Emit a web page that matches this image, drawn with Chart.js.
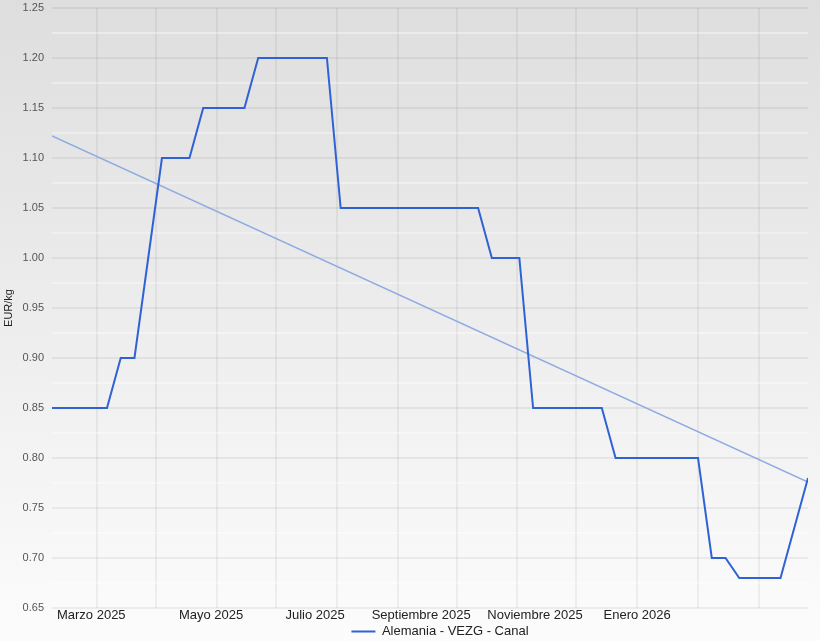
<!DOCTYPE html>
<html>
<head>
<meta charset="utf-8">
<script src="https://cdn.jsdelivr.net/npm/chart.js@4.4.1/dist/chart.umd.min.js"></script>
<style>
  body { margin: 0; background: #fff; }
  #wrap { width: 820px; height: 641px; }
</style>
</head>
<body>
<div id="wrap"><canvas id="chart"></canvas></div>
<script>
// semanas (fechas de cotización)
const weeks = [
    '2025-03-09', '2025-03-16', '2025-03-23', '2025-03-30', '2025-04-06', '2025-04-13', '2025-04-20', '2025-04-27',
    '2025-05-04', '2025-05-11', '2025-05-18', '2025-05-25', '2025-06-01', '2025-06-08', '2025-06-15', '2025-06-22',
    '2025-06-29', '2025-07-06', '2025-07-13', '2025-07-20', '2025-07-27', '2025-08-03', '2025-08-10', '2025-08-17',
    '2025-08-24', '2025-08-31', '2025-09-07', '2025-09-14', '2025-09-21', '2025-09-28', '2025-10-05', '2025-10-12',
    '2025-10-19', '2025-10-26', '2025-11-02', '2025-11-09', '2025-11-16', '2025-11-23', '2025-11-30', '2025-12-07',
    '2025-12-14', '2025-12-21', '2025-12-28', '2026-01-04', '2026-01-11', '2026-01-18', '2026-01-25', '2026-02-01',
    '2026-02-08', '2026-02-15', '2026-02-22', '2026-03-01', '2026-03-08', '2026-03-15', '2026-03-22', '2026-03-29'
];

// Alemania - VEZG - Canal (EUR/kg)
const prices = [
    0.85, 0.85, 0.85, 0.85, 0.85, 0.90, 0.90, 1.00,
    1.10, 1.10, 1.10, 1.15, 1.15, 1.15, 1.15, 1.20,
    1.20, 1.20, 1.20, 1.20, 1.20, 1.05, 1.05, 1.05,
    1.05, 1.05, 1.05, 1.05, 1.05, 1.05, 1.05, 1.05,
    1.00, 1.00, 1.00, 0.85, 0.85, 0.85, 0.85, 0.85,
    0.85, 0.80, 0.80, 0.80, 0.80, 0.80, 0.80, 0.80,
    0.70, 0.70, 0.68, 0.68, 0.68, 0.68, 0.73, 0.78
];

// línea de tendencia (inicio y fin)
const trendDates = ['2025-03-09', '2026-03-29'];
const trendValues = [1.122, 0.776];

// rejilla vertical y etiquetas del eje X
const gridDates = [
    '2025-04-01', '2025-05-01', '2025-06-01', '2025-07-01', '2025-08-01', '2025-09-01',
    '2025-10-01', '2025-11-01', '2025-12-01', '2026-01-01', '2026-02-01', '2026-03-04'
];
const monthLabels = ['Marzo 2025', 'Mayo 2025', 'Julio 2025', 'Septiembre 2025', 'Noviembre 2025', 'Enero 2026'];
const monthLabelDates = ['2025-03-29', '2025-05-29', '2025-07-21', '2025-09-13', '2025-11-10', '2026-01-01'];

const FONT = 'Liberation Sans, Arial, sans-serif';
const day = d => Math.round((Date.parse(d) - Date.parse(weeks[0])) / 86400000);
const labelDays = monthLabelDates.map(day);
const gridDays = gridDates.map(day);

// fondo degradado gris
const bgPlugin = {
    id: 'bg',
    beforeDraw(chart) {
        const ctx = chart.ctx;
        const g = ctx.createLinearGradient(0, 0, 0, chart.height);
        g.addColorStop(0, '#dedede');
        g.addColorStop(1, '#fcfcfc');
        ctx.save();
        ctx.fillStyle = g;
        ctx.fillRect(0, 0, chart.width, chart.height);
        ctx.restore();
    }
};

// desplazar la leyenda un poco a la derecha
const legendShift = {
    id: 'legendShift',
    afterLayout(chart) {
        chart.legend.left += 36;
        chart.legend.right += 36;
    }
};

new Chart(document.getElementById('chart'), {
    type: 'line',
    data: {
        datasets: [{
            label: 'Alemania - VEZG - Canal',
            data: weeks.map((w, i) => ({ x: day(w), y: prices[i] })),
            borderColor: '#2f63d4',
            backgroundColor: '#2f63d4',
            borderWidth: 2,
            pointRadius: 0,
            tension: 0
        }, {
            label: 'Tendencia',
            data: trendDates.map((w, i) => ({ x: day(w), y: trendValues[i] })),
            borderColor: '#8eaae2',
            borderWidth: 1.5,
            pointRadius: 0
        }]
    },
    options: {
        responsive: true,
        maintainAspectRatio: false,
        animation: false,
        layout: { padding: { top: 8, right: 12, bottom: -7, left: 0 } },
        plugins: {
            tooltip: { enabled: false },
            legend: {
                position: 'bottom',
                labels: {
                    filter: item => item.datasetIndex === 0,
                    usePointStyle: true,
                    pointStyle: 'line',
                    pointStyleWidth: 24,
                    padding: 3,
                    color: '#222',
                    font: { family: FONT, size: 13 }
                }
            }
        },
        scales: {
            x: {
                type: 'linear',
                min: day(weeks[0]),
                max: day(weeks[weeks.length - 1]),
                border: { display: false },
                afterBuildTicks: axis => {
                    const vals = [...new Set(gridDays.concat(labelDays))];
                    axis.ticks = vals.sort((a, b) => a - b).map(v => ({ value: v }));
                },
                afterFit: scale => { scale.height = 14; },
                grid: {
                    drawTicks: false,
                    lineWidth: 2,
                    color: ctx => (ctx.tick && gridDays.includes(ctx.tick.value)) ? 'rgba(0,0,0,0.05)' : 'rgba(0,0,0,0)'
                },
                ticks: {
                    autoSkip: false,
                    maxRotation: 0,
                    padding: 0,
                    color: '#222',
                    font: { family: FONT, size: 13 },
                    callback: v => {
                        const i = labelDays.indexOf(v);
                        return i >= 0 ? monthLabels[i] : '';
                    }
                }
            },
            y: {
                min: 0.65,
                max: 1.25,
                border: { display: false },
                afterFit: scale => {
                    scale.width = 52;
                    scale.paddingTop = 0;
                    scale.paddingBottom = 0;
                },
                title: {
                    display: true,
                    text: 'EUR/kg',
                    color: '#222',
                    padding: { top: 2, bottom: 0 },
                    font: { family: FONT, size: 11 }
                },
                grid: {
                    drawTicks: false,
                    lineWidth: 2,
                    color: ctx => {
                        const v = Math.round(ctx.tick.value * 1000);
                        return v % 50 === 0 ? 'rgba(0,0,0,0.055)' : 'rgba(255,255,255,0.35)';
                    }
                },
                ticks: {
                    stepSize: 0.025,
                    padding: 8,
                    color: '#555',
                    font: { family: FONT, size: 11 },
                    callback: v => Math.round(v * 1000) % 50 === 0 ? v.toFixed(2) : ''
                }
            }
        }
    },
    plugins: [bgPlugin, legendShift]
});
</script>
</body>
</html>
